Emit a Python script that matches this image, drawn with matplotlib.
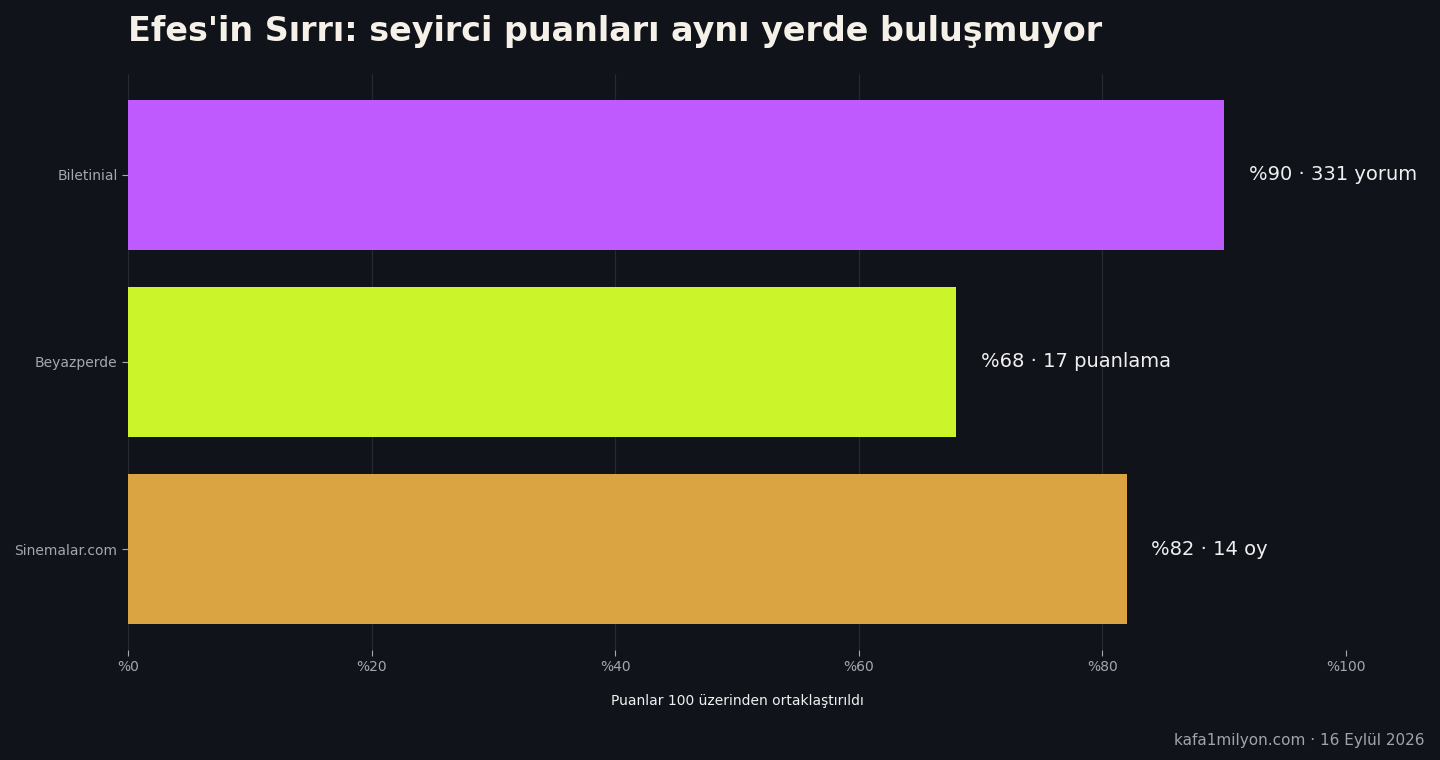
import matplotlib
matplotlib.use("Agg")
import matplotlib.pyplot as plt
from matplotlib.ticker import FuncFormatter

platforms = ["Biletinial", "Beyazperde", "Sinemalar.com"]
scores = [90, 68, 82]
counts = ["331 yorum", "17 puanlama", "14 oy"]
colors = ["#bf5bfe", "#cbf42a", "#d9a441"]
xticks = [0, 20, 40, 60, 80, 100]

BG = "#10131a"
fig = plt.figure(figsize=(14.4, 7.6), dpi=100, facecolor=BG)
ax = fig.add_axes([0.0889, 0.1447, 0.8458, 0.7580], facecolor=BG)

ypos = list(range(len(platforms)))[::-1]
ax.barh(ypos, scores, height=0.8, color=colors, zorder=2)
for y, s, c in zip(ypos, scores, counts):
    ax.text(s + 2, y, f"%{s} · {c}", va="center", ha="left",
            fontsize=14, color="#f0f0f0", clip_on=False, zorder=3)

ax.set_xlim(0, 100)
ax.set_yticks(ypos)
ax.set_yticklabels(platforms)
ax.set_xticks(xticks)
ax.xaxis.set_major_formatter(FuncFormatter(lambda v, p: f"%{int(v)}"))
ax.tick_params(axis="both", colors="#a3a7ae", labelsize=10, length=4, width=0.8)
ax.tick_params(axis="x", pad=3.2)
for sp in ax.spines.values():
    sp.set_visible(False)
ax.set_axisbelow(True)
ax.grid(axis="x", color="#262930", linewidth=0.9)
ax.grid(axis="y", visible=False)
ax.xaxis.get_gridlines()[-1].set_visible(False)

ax.set_xlabel("Puanlar 100 üzerinden ortaklaştırıldı", color="#f0f0f0",
              fontsize=10, labelpad=14.5)

fig.text(0.0889, 1 - 32 / 760, "Efes'in Sırrı: seyirci puanları aynı yerde buluşmuyor",
         fontsize=24, fontweight="bold", color="#f5f1e8", ha="left", va="center")
fig.text(1425 / 1440, 1 - 740 / 760, "kafa1milyon.com · 16 Eylül 2026",
         fontsize=11, color="#a0a4ab", ha="right", va="center")

fig.savefig("out.png", dpi=100, facecolor=BG)
